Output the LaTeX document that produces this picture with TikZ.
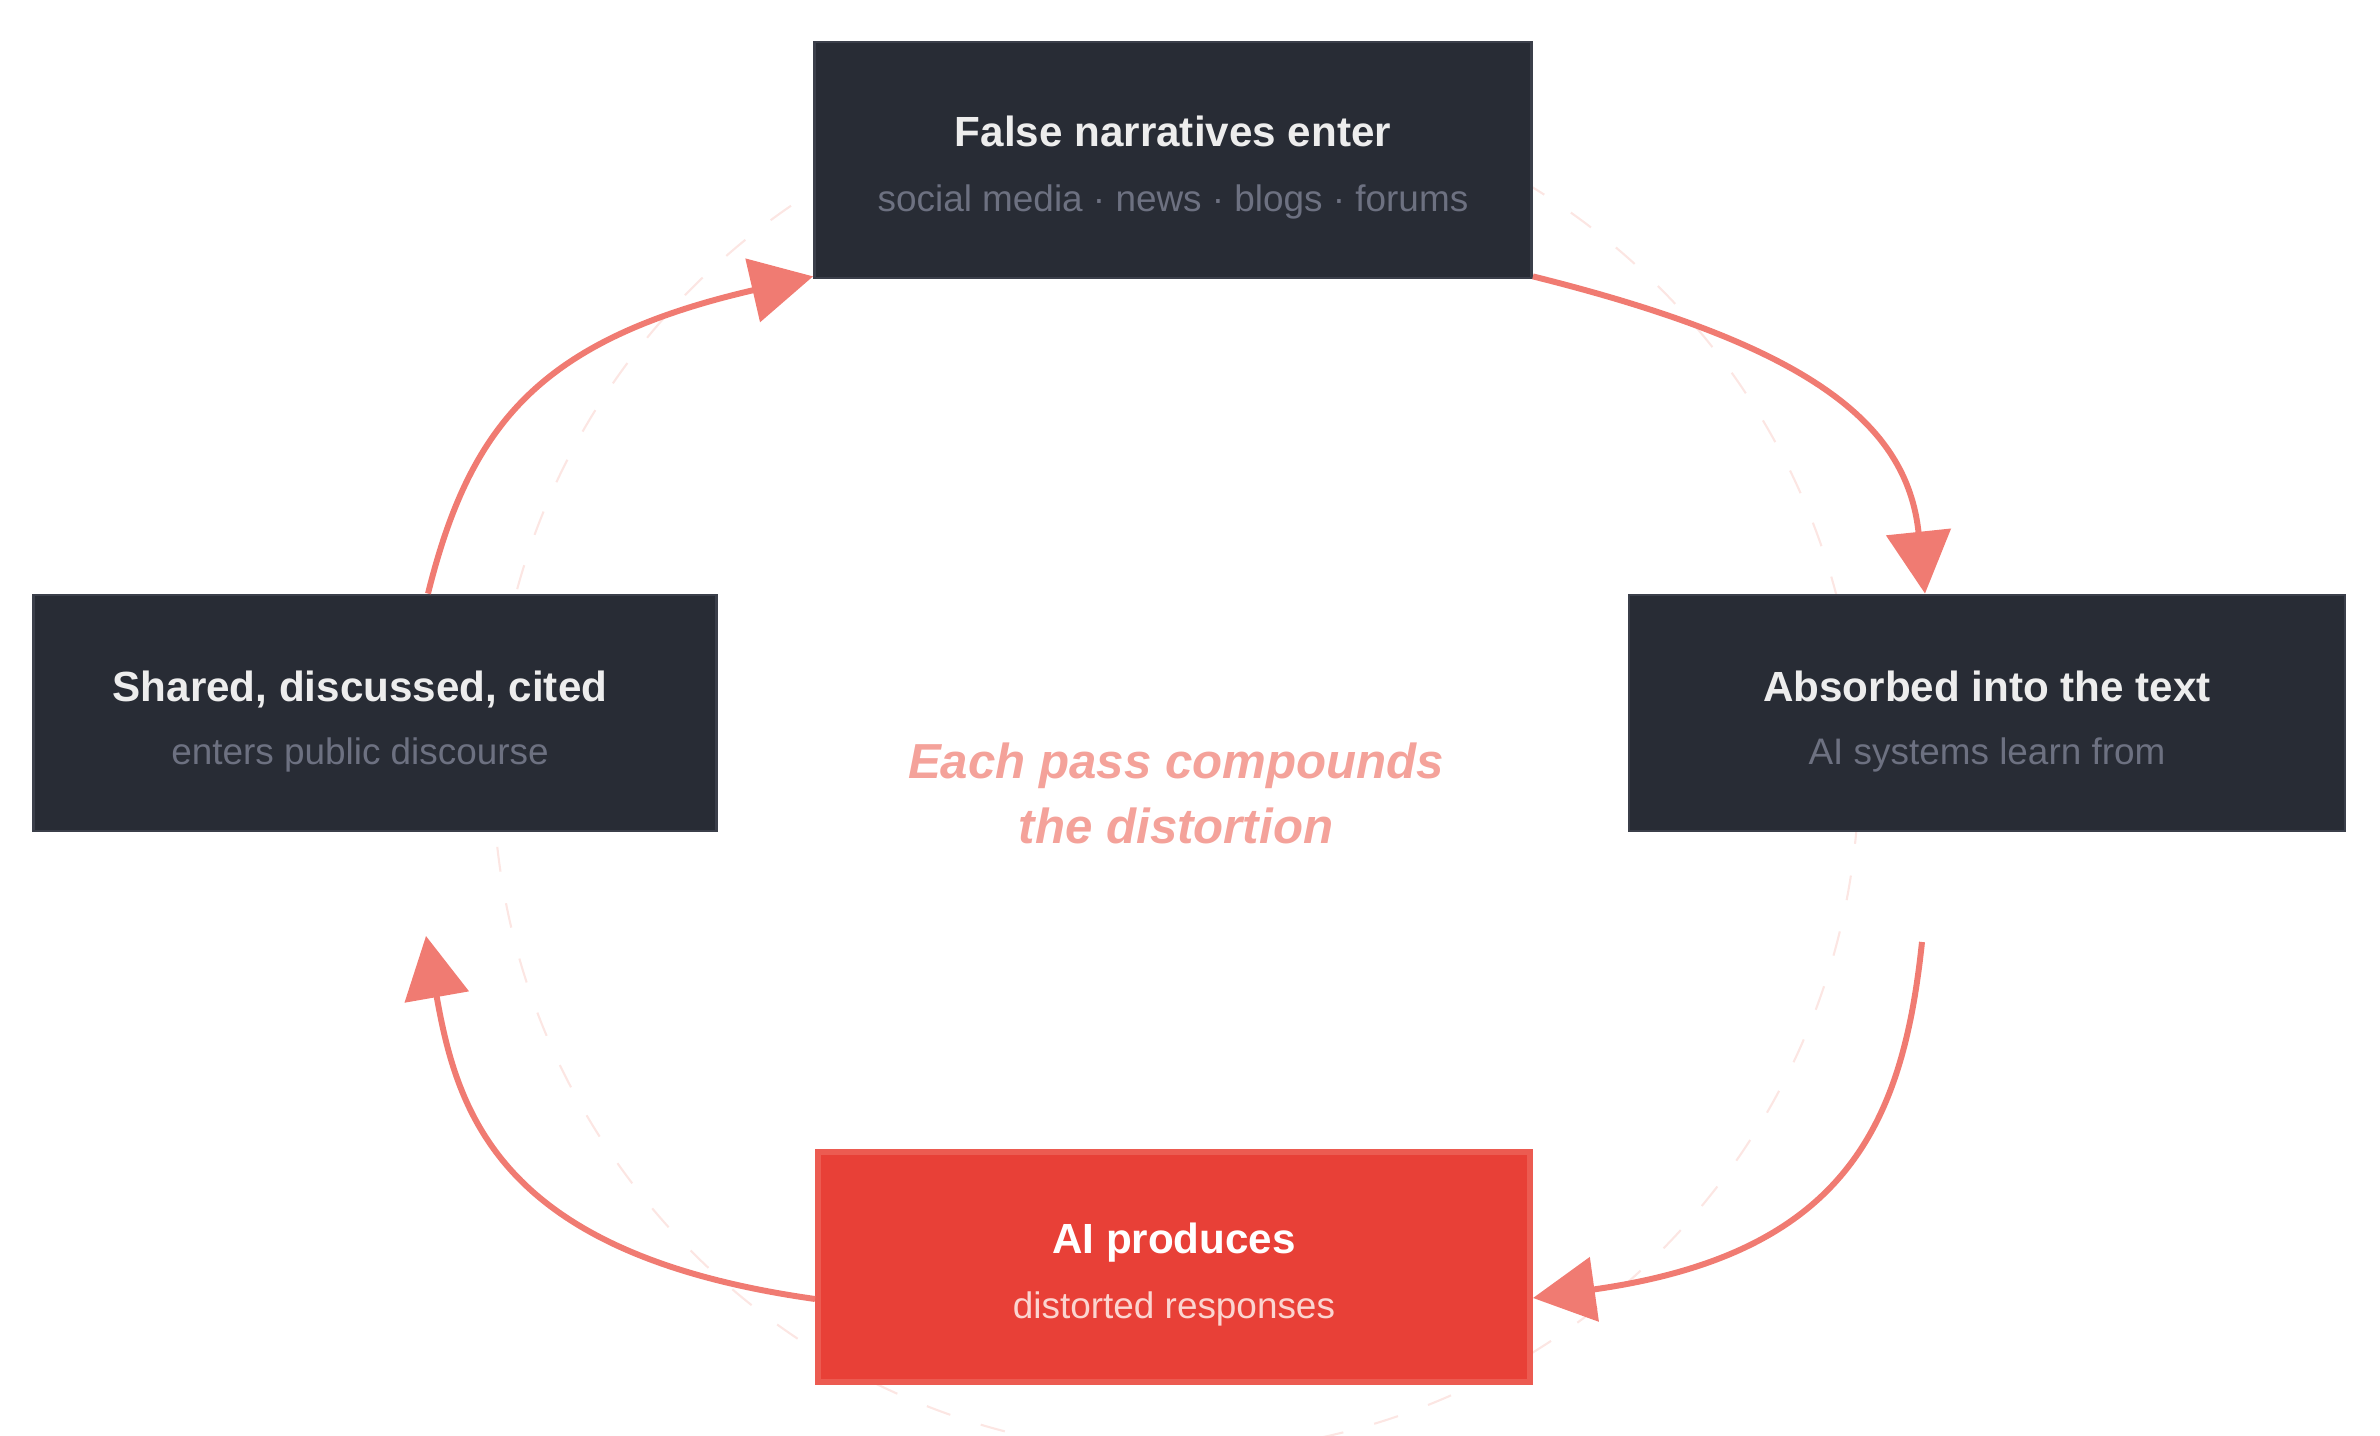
\documentclass[tikz,border=0pt]{standalone}
\usepackage{fontspec}
\setmainfont{Liberation Sans}
\usetikzlibrary{arrows.meta}

\definecolor{boxdark}{HTML}{282C35}
\definecolor{edgedark}{HTML}{3B3F4A}
\definecolor{boxred}{HTML}{E84037}
\definecolor{edgered}{HTML}{EC5B51}
\definecolor{headgray}{HTML}{EDEDED}
\definecolor{subgray}{HTML}{6D7181}
\definecolor{subpink}{HTML}{FBD5D0}
\definecolor{flowred}{HTML}{F07B72}
\definecolor{notered}{HTML}{F4A29A}
\definecolor{ringpink}{HTML}{FCE6E3}

\begin{document}
\begin{tikzpicture}[
    stage/.style={draw=edgedark, line width=0.8pt, fill=boxdark, inner sep=0pt,
      minimum width=7.17cm, minimum height=2.36cm},
    hotstage/.style={stage, draw=edgered, line width=1.7pt, fill=boxred},
    headtext/.style={anchor=base, text=headgray, font=\fontsize{12}{14}\selectfont\bfseries},
    subtext/.style={anchor=base, text=subgray, font=\fontsize{10.5}{13}\selectfont},
    flow/.style={draw=flowred, line width=1.7pt, -{Triangle[length=0.62cm,width=0.64cm]}},
    ring/.style={draw=ringpink, line width=0.6pt, dash pattern=on 0.25cm off 0.32cm}
  ]
    \useasboundingbox (0,0) rectangle (23.8,-14.36);

    \draw[ring] (11.76,-7.7) circle (6.83);

    \node[stage] (enter) at (11.73,-1.60) {};
    \node[stage, minimum width=6.83cm] (share) at (3.75,-7.13) {};
    \node[stage, minimum width=7.16cm] (absorb) at (19.87,-7.13) {};
    \node[hotstage, minimum width=7.12cm, minimum height=2.30cm] (produce) at (11.74,-12.67) {};

    \node[headtext] (enterhead) at ([yshift=0.13cm]enter.center) {False narratives enter};
    \node[subtext] (entersub) at ([yshift=-0.52cm]enter.center) {social media · news · blogs · forums};
    \node[headtext] (absorbhead) at ([yshift=0.11cm]absorb.center) {Absorbed into the text};
    \node[subtext] (absorbsub) at ([yshift=-0.52cm]absorb.center) {AI systems learn from};
    \node[headtext, text=white] (producehead) at ([yshift=0.13cm]produce.center) {AI produces};
    \node[subtext, text=subpink] (producesub) at ([yshift=-0.52cm]produce.center) {distorted responses};
    \node[headtext] (sharehead) at ([xshift=-0.15cm, yshift=0.11cm]share.center) {Shared, discussed, cited};
    \node[subtext] (sharesub) at ([xshift=-0.15cm, yshift=-0.52cm]share.center) {enters public discourse};

    \node[align=center, text=notered, font=\fontsize{14}{18.5}\selectfont\bfseries\itshape]
      (note) at (11.76,-7.93) {Each pass compounds\\the distortion};

    \coordinate (absorbout) at (19.22,-9.42);
    \coordinate (sharein) at (4.26,-9.36);

    \draw[flow] ([yshift=0.03cm]enter.south east)
      to[out=-14, in=96, out distance=2.82cm, in distance=1.73cm] ([xshift=-0.62cm]absorb.north);
    \draw[flow] (absorbout)
      to[out=-96, in=8, out distance=1.83cm, in distance=3.16cm] ([yshift=-0.31cm]produce.east);
    \draw[flow] ([yshift=-0.32cm]produce.west)
      to[out=172, in=-80, out distance=3.16cm, in distance=1.83cm] (sharein);
    \draw[flow] ([xshift=0.53cm]share.north)
      to[out=76, in=193, out distance=1.73cm, in distance=2.82cm] ([yshift=0.03cm]enter.south west);
\end{tikzpicture}
\end{document}
